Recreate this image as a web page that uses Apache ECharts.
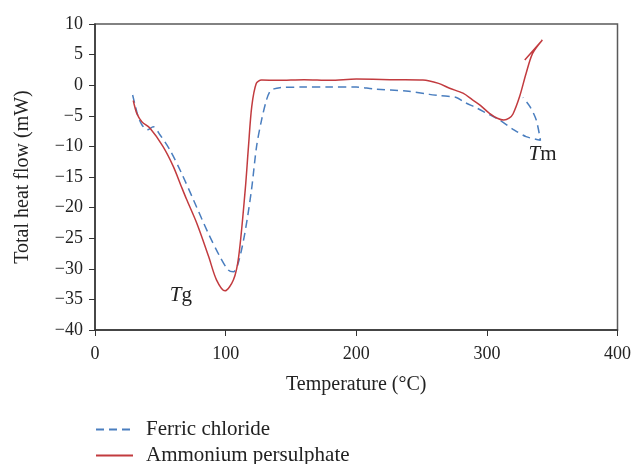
<!DOCTYPE html>
<html><head><meta charset="utf-8">
<script src="https://cdn.jsdelivr.net/npm/echarts@6/dist/echarts.min.js"></script>
<style>html,body{margin:0;padding:0;background:#fff}#c{width:634px;height:464px}</style>
</head><body><div id="c"></div>
<script>
// Ferric chloride (dashed blue)
const ferricT = [28.8, 31, 33, 36, 40, 44.6, 49.7, 57.4, 66.3, 75.5, 86.7, 95.6, 102, 106, 109.6, 114.7, 119.8, 123.7, 127.5, 131.3, 134, 137, 141.5, 160, 180, 200, 213, 240, 256, 264, 276.6, 283, 292, 300, 309.8, 320, 330, 341, 337.8, 333, 327.6];
const ferricV = [-1.6, -3.5, -5.1, -6.5, -7.3, -6.8, -8.1, -10.6, -14.4, -18.8, -24.2, -28.0, -30.2, -30.5, -29.1, -24.2, -17.1, -10.0, -5.7, -2.4, -1.0, -0.6, -0.4, -0.3, -0.3, -0.3, -0.6, -1.0, -1.5, -1.7, -2.0, -2.8, -3.7, -4.6, -5.7, -7.2, -8.4, -9.0, -5.7, -3.5, -2.0];
// Ammonium persulphate (solid red)
const ammoniumT = [29.3, 32, 36, 42, 52, 60, 66, 70, 78, 87, 93, 99.5, 106, 110, 115, 117.5, 120, 123.5, 127.5, 140, 160, 180, 200, 230, 251, 263, 271.5, 281.7, 289, 295, 302, 308, 313, 317, 320, 325, 330, 335, 342.5, 329];
const ammoniumV = [-2.5, -4.6, -6.0, -7.0, -10.0, -13.3, -16.5, -18.6, -22.6, -28.0, -31.8, -33.6, -31.8, -28.0, -17.1, -10.0, -3.5, 0.3, 0.85, 0.8, 0.9, 0.8, 1.0, 0.9, 0.85, 0.3, -0.5, -1.3, -2.4, -3.3, -4.6, -5.4, -5.7, -5.4, -4.7, -1.9, 1.9, 5.2, 7.4, 4.1];
// annotations
const annoSub = ['g', 'm'];
const annoT = [65.8, 342.6];
const annoV = [-34.3, -11.4];
const xTicks = [0, 100, 200, 300, 400];
const yTicks = [-40, -35, -30, -25, -20, -15, -10, -5, 0, 5, 10];

const zip = (a, b) => a.map((v, i) => [v, b[i]]);
const FONT = 'Liberation Serif';
const minus = v => String(v).replace('-', '\u2212');
const legendBase = {
  orient: 'vertical', left: 95, padding: 0, itemWidth: 37, itemHeight: 14,
  itemStyle: { opacity: 0 },
  textStyle: { fontFamily: FONT, fontSize: 21, color: '#222', padding: [0, 0, 0, 8] }
};
const chart = echarts.init(document.getElementById('c'));
chart.setOption({
  animation: false,
  grid: { left: 95, right: 16, top: 24, bottom: 134, show: true, borderColor: '#5a5a5a', borderWidth: 1.5 },
  xAxis: {
    type: 'value', min: xTicks[0], max: xTicks[xTicks.length - 1], interval: 100,
    name: 'Temperature (°C)', nameLocation: 'middle', nameGap: 45,
    nameTextStyle: { fontFamily: FONT, fontSize: 20, color: '#222' },
    axisLine: { onZero: false, lineStyle: { color: '#333', width: 1.5 } },
    axisTick: { show: true, length: 6, inside: false, lineStyle: { color: '#333' } },
    axisLabel: { fontFamily: FONT, fontSize: 18, color: '#222', margin: 15, formatter: minus },
    splitLine: { show: false }
  },
  yAxis: {
    type: 'value', min: yTicks[0], max: yTicks[yTicks.length - 1], interval: 5,
    name: 'Total heat flow (mW)', nameLocation: 'middle', nameGap: 62,
    nameTextStyle: { fontFamily: FONT, fontSize: 20, color: '#222' },
    axisLine: { show: true, onZero: false, lineStyle: { color: '#333', width: 1.5 } },
    axisTick: { show: true, length: 6, inside: false, lineStyle: { color: '#333' } },
    axisLabel: { fontFamily: FONT, fontSize: 18, color: '#222', margin: 12, formatter: minus },
    splitLine: { show: false }
  },
  legend: [
    Object.assign({}, legendBase, { top: 419, data: ['Ferric chloride'] }),
    Object.assign({}, legendBase, { top: 445, data: ['Ammonium persulphate'] })
  ],
  series: [
    {
      name: 'Ferric chloride', type: 'line', data: zip(ferricT, ferricV), smooth: 0.3,
      showSymbol: false, symbol: 'none', color: '#4a7ebf',
      lineStyle: { color: '#4a7ebf', width: 1.5, type: [8, 5] },
      markPoint: {
        symbol: 'circle', symbolSize: 0, silent: true,
        label: {
          show: true, position: 'inside', formatter: p => '{i|T}{n|' + p.name + '}',
          rich: { i: { fontFamily: FONT, fontStyle: 'italic', fontSize: 21, color: '#222' },
                  n: { fontFamily: FONT, fontSize: 21, color: '#222' } }
        },
        data: annoSub.map((s, i) => ({ name: s, coord: [annoT[i], annoV[i]] }))
      }
    },
    {
      name: 'Ammonium persulphate', type: 'line', data: zip(ammoniumT, ammoniumV), smooth: 0.3,
      showSymbol: false, symbol: 'none', color: '#c23b3f',
      lineStyle: { color: '#c23b3f', width: 1.5 }
    }
  ]
});
</script></body></html>
